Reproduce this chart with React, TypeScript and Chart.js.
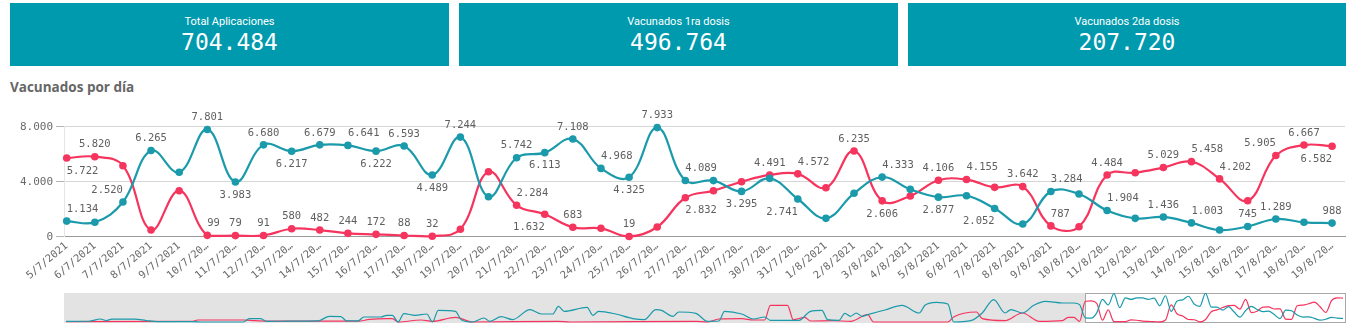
import React, { useEffect, useRef } from 'react';
import { Chart, registerables } from 'chart.js';

Chart.register(...registerables);

// ---------- data ----------
const kpiTitles = ['Total Aplicaciones', 'Vacunados 1ra dosis', 'Vacunados 2da dosis'];
const kpiValues = [704484, 496764, 207720];

const chartTitle = 'Vacunados por día';

const dateLabels = [
  '5/7/2021', '6/7/2021', '7/7/2021', '8/7/2021', '9/7/2021', '10/7/2021', '11/7/2021', '12/7/2021',
  '13/7/2021', '14/7/2021', '15/7/2021', '16/7/2021', '17/7/2021', '18/7/2021', '19/7/2021', '20/7/2021',
  '21/7/2021', '22/7/2021', '23/7/2021', '24/7/2021', '25/7/2021', '26/7/2021', '27/7/2021', '28/7/2021',
  '29/7/2021', '30/7/2021', '31/7/2021', '1/8/2021', '2/8/2021', '3/8/2021', '4/8/2021', '5/8/2021',
  '6/8/2021', '7/8/2021', '8/8/2021', '9/8/2021', '10/8/2021', '11/8/2021', '12/8/2021', '13/8/2021',
  '14/8/2021', '15/8/2021', '16/8/2021', '17/8/2021', '18/8/2021', '19/8/2021',
];

const firstDose = [
  1134, 1047, 2520, 6265, 4684, 7801, 3983, 6680, 6217, 6679, 6641, 6222, 6593, 4489, 7244, 2909,
  5742, 6113, 7108, 4968, 4325, 7933, 4089, 4080, 3295, 4245, 2741, 1335, 3155, 4333, 3445, 2877,
  2982, 2052, 923, 3284, 3105, 1904, 1335, 1436, 1003, 487, 745, 1289, 1047, 988,
];

const secondDose = [
  5722, 5820, 5164, 487, 3345, 99, 79, 91, 580, 482, 244, 172, 88, 32, 538, 4727,
  2284, 1632, 683, 611, 19, 705, 2832, 3345, 4000, 4491, 4572, 3564, 6235, 2606, 2960, 4106,
  4155, 3590, 3642, 787, 727, 4484, 4655, 5029, 5458, 4202, 2618, 5905, 6667, 6582,
];

// which value labels are shown: 'a' above the point, 'b' below, '' none
const firstDoseLabelPos = [
  'a', '', 'a', 'a', '', 'a', 'b', 'a', 'b', 'a', 'a', 'b', 'a', 'b', 'a', '',
  'a', 'b', 'a', 'a', 'b', 'a', 'a', '', 'b', '', 'b', '', '', 'a', '', 'b',
  '', 'b', '', 'a', '', 'a', '', 'a', 'a', '', 'a', 'a', '', 'a',
];
const secondDoseLabelPos = [
  'b', 'a', '', '', '', 'a', 'a', 'a', 'a', 'a', 'a', 'a', 'a', 'a', '', '',
  'a', 'b', 'a', '', 'a', '', 'b', '', '', 'a', 'a', '', 'a', 'b', '', 'a',
  'a', '', 'a', 'a', '', 'a', '', 'a', 'a', 'a', '', 'a', 'a', 'b',
];

const yTickValues = [0, 4000, 8000];

// navigator: earlier history as [day index, value] (window starts at day 178)
const windowStartDay = 178;
const firstDoseHistory: [number, number][] = [
  [0, 180], [4, 200], [6, 830], [7, 400], [8, 770], [12, 770], [14, 400], [16, 100], [22, 100], [24, 0],
  [31, 0], [32, 920], [34, 900], [35, 150], [39, 250], [44, 300], [46, 1560], [48, 1500], [49, 280],
  [51, 280], [52, 1380], [55, 1380], [56, 1840], [57, 1840], [58, 0], [59, 2300], [61, 1840], [63, 2208],
  [64, 0], [65, 3220], [68, 2944], [69, 644], [71, 0], [73, 1104], [74, 184], [76, 1472], [78, 644],
  [81, 3404], [83, 2208], [85, 2208], [86, 4320], [87, 2944], [91, 4048], [92, 1840], [93, 2944],
  [96, 2208], [99, 920], [101, 644], [103, 3404], [104, 3220], [106, 1564], [107, 2760], [110, 2392],
  [112, 184], [114, 276], [115, 2944], [118, 2208], [120, 828], [122, 1380], [123, 460], [128, 460],
  [130, 2944], [132, 3220], [133, 644], [135, 460], [136, 2392], [137, 1564], [138, 2484], [139, 1564],
  [140, 2024], [143, 3312], [146, 4600], [149, 2484], [150, 4600], [152, 5428], [154, 4968], [155, 0],
  [158, 368], [160, 2484], [162, 6164], [164, 2484], [165, 3404], [167, 2484], [169, 4600], [171, 5704],
  [174, 5244], [176, 5244], [177, 4784],
];
const secondDoseHistory: [number, number][] = [
  [0, 100], [22, 150], [23, 550], [31, 550], [33, 350], [35, 250], [51, 250], [53, 700], [56, 920],
  [57, 920], [58, 0], [62, 552], [64, 184], [68, 1288], [71, 0], [86, 184], [88, 0], [110, 184],
  [112, 0], [114, 828], [118, 920], [120, 552], [122, 552], [123, 4600], [126, 4600], [127, 644],
  [129, 1288], [130, 276], [134, 368], [137, 184], [140, 2024], [141, 0], [154, 0], [155, 1380],
  [159, 2760], [160, 920], [164, 368], [167, 2484], [170, 184], [174, 368], [175, 1288], [176, 1288],
  [177, 184],
];

// ---------- style ----------
const TEAL = '#1a9aaa';
const RED = '#f5355e';
const BOX = '#009aae';
const MONO = '"DejaVu Sans Mono", monospace';
const TEXT_GRAY = '#5f5f5f';

const fmt = (v: number) => Math.round(v).toString().replace(/\B(?=(\d{3})+(?!\d))/g, '.');
const shortLabel = (s: string) => (s.length > 8 ? s.slice(0, 7) + '…' : s);

// sample the drawn bezier curves of a line dataset
function sampleCurve(points: any[]): { x: number; y: number }[] {
  const out: { x: number; y: number }[] = [];
  for (let i = 0; i < points.length - 1; i++) {
    const p0 = points[i];
    const p1 = points[i + 1];
    const c1x = p0.cp2x ?? p0.x;
    const c1y = p0.cp2y ?? p0.y;
    const c2x = p1.cp1x ?? p1.x;
    const c2y = p1.cp1y ?? p1.y;
    for (let k = 0; k <= 40; k++) {
      const t = k / 40;
      const u = 1 - t;
      out.push({
        x: u * u * u * p0.x + 3 * u * u * t * c1x + 3 * u * t * t * c2x + t * t * t * p1.x,
        y: u * u * u * p0.y + 3 * u * u * t * c1y + 3 * u * t * t * c2y + t * t * t * p1.y,
      });
    }
  }
  return out;
}

const valueLabelPlugin = {
  id: 'valueLabels',
  afterDatasetsDraw(chart: any) {
    const ctx = chart.ctx;
    const area = chart.chartArea;
    const positions = [firstDoseLabelPos, secondDoseLabelPos];
    const values = [firstDose, secondDose];
    ctx.save();
    ctx.font = `10.5px ${MONO}`;
    ctx.fillStyle = TEXT_GRAY;
    ctx.textAlign = 'center';
    ctx.textBaseline = 'middle';
    const metas = [chart.getDatasetMeta(0), chart.getDatasetMeta(1)];
    const curves = metas.map((m) => sampleCurve(m.data));
    const marks = metas.flatMap((m) => m.data.map((p: any) => ({ x: p.x, y: p.y })));
    const placed: { l: number; r: number; t: number; b: number }[] = [];
    for (let i = 0; i < firstDose.length; i++) {
      for (let di = 0; di < 2; di++) {
        const pos = positions[di][i];
        if (!pos) continue;
        const pt = metas[di].data[i];
        const text = fmt(values[di][i]);
        const w = ctx.measureText(text).width;
        const h = 10;
        const y = pos === 'a' ? pt.y - 12 : pt.y + 13;
        let best = pt.x;
        let bestScore = Infinity;
        for (const dx of [0, w / 2, -w / 2]) {
          const cx = pt.x + dx;
          const l = cx - w / 2 - 1;
          const r = cx + w / 2 + 1;
          const t = y - h / 2 - 1.5;
          const b = y + h / 2 + 1.5;
          let score = 0;
          if (placed.some((p) => l < p.r && r > p.l && t < p.b && b > p.t)) score += 1000;
          if (cx - w / 2 < area.left || cx + w / 2 > area.right) score += 1000;
          for (const c of curves) for (const s of c) if (s.x > l && s.x < r && s.y > t && s.y < b) score += 1;
          for (const m of marks) if (m.x + 4 > l && m.x - 4 < r && m.y + 4 > t && m.y - 4 < b) score += 5;
          if (score < bestScore) {
            bestScore = score;
            best = cx;
          }
          if (score === 0) break;
        }
        placed.push({ l: best - w / 2, r: best + w / 2, t: y - h / 2, b: y + h / 2 });
        ctx.fillText(text, best, y);
      }
    }
    ctx.restore();
  },
};

const navBackgroundPlugin = {
  id: 'navBackground',
  beforeDatasetsDraw(chart: any) {
    const { ctx, chartArea } = chart;
    const xs = chart.scales.x;
    const xw = Math.round(xs.getPixelForValue(windowStartDay - 0.1));
    ctx.save();
    ctx.fillStyle = '#e3e3e3';
    ctx.fillRect(chartArea.left, chartArea.top, xw - chartArea.left, chartArea.bottom - chartArea.top);
    ctx.fillStyle = '#ffffff';
    ctx.fillRect(xw, chartArea.top, chartArea.right - xw, chartArea.bottom - chartArea.top);
    ctx.strokeStyle = '#a8a8a8';
    ctx.lineWidth = 1;
    ctx.strokeRect(xw + 0.5, chartArea.top + 0.5, chartArea.right - xw - 2, chartArea.bottom - chartArea.top - 1);
    ctx.restore();
  },
};

export default function App() {
  const mainRef = useRef<HTMLCanvasElement | null>(null);
  const navRef = useRef<HTMLCanvasElement | null>(null);

  useEffect(() => {
    document.body.style.margin = '0';
    if (!mainRef.current || !navRef.current) return;

    const main = new Chart(mainRef.current, {
      type: 'line',
      data: {
        datasets: [
          {
            data: firstDose.map((v, i) => ({ x: i, y: v })),
            borderColor: TEAL,
            backgroundColor: TEAL,
            borderWidth: 2.2,
            pointRadius: 3.8,
            pointBorderWidth: 0,
            tension: 0.4,
            clip: false as any,
          },
          {
            data: secondDose.map((v, i) => ({ x: i, y: v })),
            borderColor: RED,
            backgroundColor: RED,
            borderWidth: 2.2,
            pointRadius: 3.8,
            pointBorderWidth: 0,
            tension: 0.4,
            clip: false as any,
          },
        ],
      },
      options: {
        responsive: false,
        animation: false,
        layout: { padding: { left: 0, right: 3, top: 26.7, bottom: 0 } },
        plugins: { legend: { display: false }, tooltip: { enabled: false } },
        scales: {
          x: {
            type: 'linear',
            min: -0.096,
            max: 45.46,
            afterBuildTicks: (s: any) => {
              s.ticks = dateLabels.map((_, i) => ({ value: i }));
            },
            afterFit: (s: any) => {
              s.height = 53.3;
            },
            ticks: {
              autoSkip: false,
              maxRotation: 40,
              minRotation: 40,
              padding: 3,
              color: '#6a6a6a',
              font: { family: MONO, size: 10.5 },
              callback: (v: any) => shortLabel(dateLabels[v] ?? ''),
            },
            grid: { display: false, drawTicks: false },
            border: { display: true, color: '#9a9a9a', width: 1 },
          },
          y: {
            min: 0,
            max: 8000,
            afterBuildTicks: (s: any) => {
              s.ticks = yTickValues.map((v) => ({ value: v }));
            },
            afterFit: (s: any) => {
              s.width = 64;
            },
            ticks: {
              padding: 3,
              color: '#6a6a6a',
              font: { family: MONO, size: 11 },
              callback: (v: any) => fmt(Number(v)),
            },
            grid: { color: '#d6d6d6', tickLength: 8, tickColor: '#b5b5b5' },
            border: { display: true, color: '#e6e6e6' },
          },
        },
      },
      plugins: [valueLabelPlugin],
    });

    const navTeal = [
      ...firstDoseHistory.map(([d, v]) => ({ x: d, y: v })),
      ...firstDose.map((v, i) => ({ x: windowStartDay + i, y: v })),
    ];
    const navRed = [
      ...secondDoseHistory.map(([d, v]) => ({ x: d, y: v })),
      ...secondDose.map((v, i) => ({ x: windowStartDay + i, y: v })),
    ];

    const nav = new Chart(navRef.current, {
      type: 'line',
      data: {
        datasets: [
          { data: navTeal, borderColor: TEAL, borderWidth: 1.2, pointRadius: 0, tension: 0.4, cubicInterpolationMode: 'monotone' },
          { data: navRed, borderColor: RED, borderWidth: 1.2, pointRadius: 0, tension: 0.4, cubicInterpolationMode: 'monotone' },
        ],
      },
      options: {
        responsive: false,
        animation: false,
        layout: { padding: 0 },
        plugins: { legend: { display: false }, tooltip: { enabled: false } },
        scales: {
          x: { type: 'linear', display: false, min: -0.35, max: windowStartDay + 45.7 },
          y: { display: false, min: -280, max: 8000 },
        },
      },
      plugins: [navBackgroundPlugin],
    });

    return () => {
      main.destroy();
      nav.destroy();
    };
  }, []);

  const boxLefts = [10, 459, 908];
  const boxWidths = [439, 439, 438];

  return (
    <div style={{ position: 'relative', width: 1349, height: 326, background: '#fff', overflow: 'hidden' }}>
      {kpiTitles.map((t, i) => (
        <div
          key={t}
          style={{
            position: 'absolute',
            left: boxLefts[i],
            top: 3,
            width: boxWidths[i],
            height: 63,
            background: BOX,
            color: '#fff',
            textAlign: 'center',
          }}
        >
          <div style={{ position: 'absolute', left: 0, right: 0, top: 11, lineHeight: '16px', fontSize: 11, fontFamily: 'Roboto, sans-serif' }}>
            {t}
          </div>
          <div style={{ position: 'absolute', left: 0, right: 0, top: 25, lineHeight: '28px', fontSize: 23, fontFamily: MONO }}>
            {fmt(kpiValues[i])}
          </div>
        </div>
      ))}
      <div
        style={{
          position: 'absolute',
          left: 10,
          top: 78,
          lineHeight: '18px',
          fontSize: 13.5,
          fontWeight: 700,
          color: '#666',
          fontFamily: '"Open Sans", sans-serif',
        }}
      >
        {chartTitle}
      </div>
      <canvas
        ref={mainRef}
        width={1349}
        height={190}
        style={{ position: 'absolute', left: 0, top: 100, width: 1349, height: 190 }}
      />
      <canvas
        ref={navRef}
        width={1283}
        height={30}
        style={{ position: 'absolute', left: 64, top: 293, width: 1283, height: 30 }}
      />
    </div>
  );
}
